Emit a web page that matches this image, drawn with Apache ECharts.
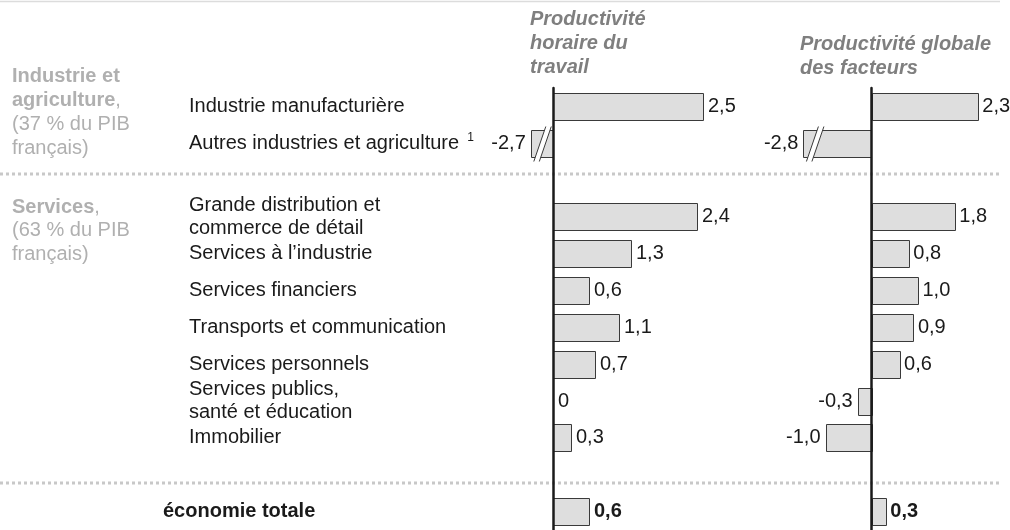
<!DOCTYPE html>
<html>
<head>
<meta charset="utf-8">
<script src="https://cdn.jsdelivr.net/npm/echarts@6/dist/echarts.min.js"></script>
<style>
  html, body { margin: 0; padding: 0; background: #fff; }
  #chart { width: 1010px; height: 530px; }
</style>
</head>
<body>
<div id="chart"></div>
<script>
// lignes (les libellés vides servent de séparateurs)
const categories = [
  'Industrie manufacturière',
  'Autres industries et agriculture',
  ' ',
  'Grande distribution et\ncommerce de détail',
  'Services à l’industrie',
  'Services financiers',
  'Transports et communication',
  'Services personnels',
  'Services publics,\nsanté et éducation',
  'Immobilier',
  '  ',
  'économie totale'
]
// Productivité horaire du travail
const travail = [2.5, -2.7, null, 2.4, 1.3, 0.6, 1.1, 0.7, 0, 0.3, null, 0.6]
// Productivité globale des facteurs
const facteurs = [2.3, -2.8, null, 1.8, 0.8, 1.0, 0.9, 0.6, -0.3, -1.0, null, 0.3]

const FONT = 'Arial, "Liberation Sans", sans-serif'
const TEXT = '#1a1a1a'
const GREY = '#b0b0b0'

function fmt(v) {
  return v === 0 ? '0' : v.toFixed(1).replace('.', ',')
}

// barre tronquée au-delà de clampMin (marque de rupture //)
function makeRender(clampMin) {
  return function (params, api) {
    const v = api.value(0)
    const i = api.value(1)
    const p0 = api.coord([0, i])
    const p1 = api.coord([Math.max(v, clampMin), i])
    const h = Math.round(api.size([0, 1])[1] * 0.72)
    const yt = Math.round(p0[1] - h / 2) + 0.5
    const x0 = Math.round(Math.min(p0[0], p1[0])) + 0.5
    const w = Math.round(Math.abs(p1[0] - p0[0]))
    const bold = i === categories.length - 1
    const children = [{
      type: 'rect',
      shape: { x: x0, y: yt, width: w, height: h },
      style: { fill: '#dedede', stroke: '#3a3a3a', lineWidth: 1 }
    }]
    if (v < clampMin) {
      const e = p1[0]
      const yb = yt + h + 4
      const ytop = yt - 4
      children.push({
        type: 'polygon',
        shape: { points: [[e + 3, yb], [e + 8.5, yb], [e + 20.5, ytop], [e + 15, ytop]] },
        style: { fill: '#fff' }
      })
      children.push({ type: 'line', shape: { x1: e + 3, y1: yb, x2: e + 15, y2: ytop }, style: { stroke: '#3a3a3a', lineWidth: 1 } })
      children.push({ type: 'line', shape: { x1: e + 8.5, y1: yb, x2: e + 20.5, y2: ytop }, style: { stroke: '#3a3a3a', lineWidth: 1 } })
    }
    children.push({
      type: 'text',
      style: {
        text: fmt(v),
        x: v >= 0 ? p1[0] + 5 : p1[0] - 5,
        y: p0[1],
        align: v >= 0 ? 'left' : 'right',
        verticalAlign: 'middle',
        fontSize: 20,
        fontFamily: FONT,
        fontWeight: bold ? 'bold' : 'normal',
        fill: TEXT
      }
    })
    return { type: 'group', children: children }
  }
}

function toData(arr) {
  const out = []
  arr.forEach((v, i) => { if (v !== null) out.push([v, i]) })
  return out
}

const chart = echarts.init(document.getElementById('chart'))

const rowLabel = {
  align: 'left',
  margin: 360,
  fontFamily: FONT,
  fontSize: 20,
  color: TEXT,
  formatter: function (value) {
    const s = value.trim()
    if (s === 'économie totale') return '{b|' + s + '}'
    if (s === 'Autres industries et agriculture') return '{n|' + s + '}{sup|1}'
    return s.split('\n').map(t => t ? '{n|' + t + '}' : '').join('\n')
  },
  rich: {
    n: { fontFamily: FONT, fontSize: 20, color: TEXT, lineHeight: 22.5, padding: [0, 0, 0, 26] },
    b: { fontFamily: FONT, fontSize: 20, color: TEXT, lineHeight: 22.5, fontWeight: 'bold' },
    sup: { fontFamily: FONT, fontSize: 12, color: TEXT, lineHeight: 22.5, verticalAlign: 'top', padding: [0, 0, 0, 8] }
  }
}

const option = {
  animation: false,
  grid: [
    { left: 523, width: 240, top: 88, height: 447.6 },
    { left: 779.5, width: 207, top: 88, height: 447.6 }
  ],
  xAxis: [
    { gridIndex: 0, type: 'value', min: -0.5, max: 3.5, show: false },
    { gridIndex: 1, type: 'value', min: -2, max: 2.5, show: false }
  ],
  yAxis: [
    {
      gridIndex: 0, type: 'category', data: categories, inverse: true, z: 10,
      axisLine: { onZero: true, lineStyle: { color: TEXT, width: 2.5 } },
      axisTick: { show: false },
      splitLine: { show: false },
      axisLabel: rowLabel
    },
    {
      gridIndex: 1, type: 'category', data: categories, inverse: true, z: 10,
      axisLine: { onZero: true, lineStyle: { color: TEXT, width: 2.5 } },
      axisTick: { show: false },
      splitLine: { show: false },
      axisLabel: { show: false }
    }
  ],
  series: [
    {
      name: 'Productivité horaire du travail',
      type: 'custom', xAxisIndex: 0, yAxisIndex: 0, clip: false,
      renderItem: makeRender(-0.37),
      encode: { x: 0, y: 1 },
      data: toData(travail)
    },
    {
      name: 'Productivité globale des facteurs',
      type: 'custom', xAxisIndex: 1, yAxisIndex: 1, clip: false,
      renderItem: makeRender(-1.48),
      encode: { x: 0, y: 1 },
      data: toData(facteurs)
    }
  ],
  graphic: [
    { type: 'line', shape: { x1: 0, y1: 1.5, x2: 1000, y2: 1.5 }, style: { stroke: '#dcdcdc', lineWidth: 1.5 } },
    { type: 'line', shape: { x1: 0, y1: 174, x2: 1000, y2: 174 }, style: { stroke: '#c8c8c8', lineWidth: 3, lineDash: [3, 3] }, z: 0 },
    { type: 'line', shape: { x1: 0, y1: 483, x2: 1000, y2: 483 }, style: { stroke: '#c8c8c8', lineWidth: 3, lineDash: [3, 3] }, z: 0 },
    {
      type: 'text', x: 12, y: 112.5,
      style: {
        text: '{b|Industrie et}\n{b|agriculture}{n|,}\n{n|(37 % du PIB}\n{n|français)}',
        verticalAlign: 'middle',
        rich: {
          b: { fontFamily: FONT, fontSize: 20, fontWeight: 'bold', fill: GREY, lineHeight: 23.7 },
          n: { fontFamily: FONT, fontSize: 20, fill: GREY, lineHeight: 23.7 }
        }
      }
    },
    {
      type: 'text', x: 12, y: 230.5,
      style: {
        text: '{b|Services}{n|,}\n{n|(63 % du PIB}\n{n|français)}',
        verticalAlign: 'middle',
        rich: {
          b: { fontFamily: FONT, fontSize: 20, fontWeight: 'bold', fill: GREY, lineHeight: 23.5 },
          n: { fontFamily: FONT, fontSize: 20, fill: GREY, lineHeight: 23.5 }
        }
      }
    },
    {
      type: 'text', x: 530, y: 43,
      style: {
        text: 'Productivité\nhoraire du\ntravail',
        verticalAlign: 'middle',
        fontFamily: FONT, fontSize: 20, fontWeight: 'bold', fontStyle: 'italic',
        fill: '#7f7f7f', lineHeight: 24
      }
    },
    {
      type: 'text', x: 800, y: 56,
      style: {
        text: 'Productivité globale\ndes facteurs',
        verticalAlign: 'middle',
        fontFamily: FONT, fontSize: 20, fontWeight: 'bold', fontStyle: 'italic',
        fill: '#7f7f7f', lineHeight: 24
      }
    }
  ]
}

chart.setOption(option)
</script>
</body>
</html>
